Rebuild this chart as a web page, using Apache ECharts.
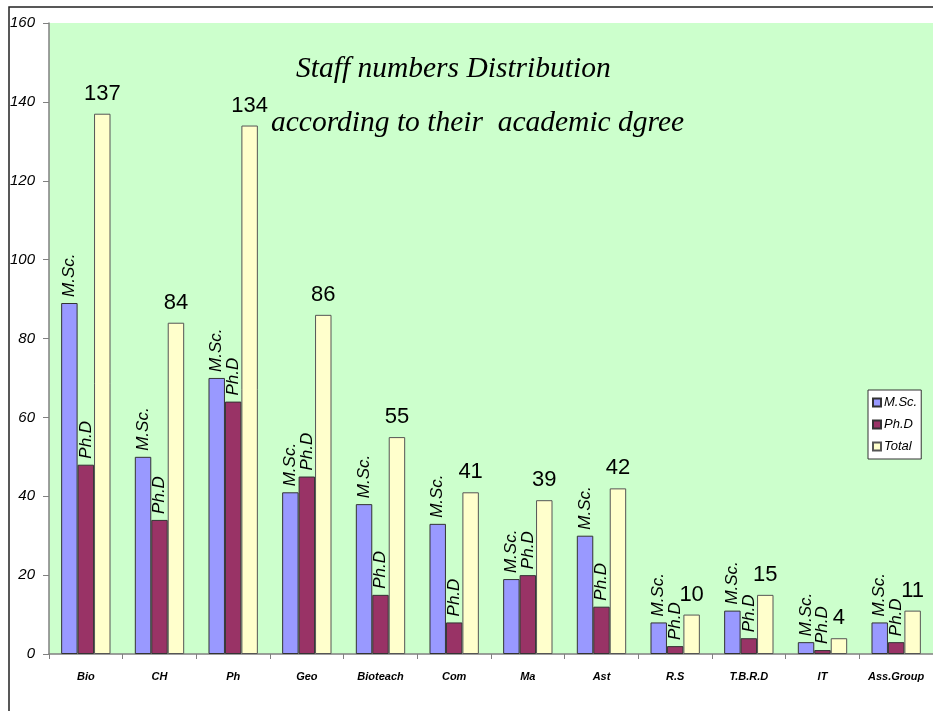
<!DOCTYPE html>
<html>
<head>
<meta charset="utf-8">
<script src="https://cdn.jsdelivr.net/npm/echarts@6/dist/echarts.min.js"></script>
<style>
  html, body { margin: 0; padding: 0; background: #fff; }
  #chart { width: 933px; height: 711px; }
</style>
</head>
<body>
<div id="chart"></div>
<script>
// 数据
const categories = ['Bio', 'CH', 'Ph', 'Geo', 'Bioteach', 'Com', 'Ma', 'Ast', 'R.S', 'T.B.R.D', 'IT', 'Ass.Group'];
const mscValues = [89, 50, 70, 41, 38, 33, 19, 30, 8, 11, 3, 8];
const phdValues = [48, 34, 64, 45, 15, 8, 20, 12, 2, 4, 1, 3];
const totalValues = [137, 84, 134, 86, 55, 41, 39, 42, 10, 15, 4, 11];
const yTicks = { min: 0, max: 160, interval: 20 };

function rotatedLabel(text) {
    return {
        show: true,
        position: 'top',
        rotate: 90,
        align: 'left',
        verticalAlign: 'middle',
        distance: 6,
        formatter: text,
        fontFamily: 'Liberation Sans, Arial',
        fontStyle: 'italic',
        fontSize: 17,
        color: '#000'
    };
}

function initStaffChart() {
    const chart = echarts.init(document.getElementById('chart'));

    const titleStyle = {
        fontFamily: 'Liberation Serif, Times New Roman',
        fontStyle: 'italic',
        fontWeight: 'normal',
        fontSize: 29.5,
        color: '#000'
    };

    const option = {
        backgroundColor: '#fff',
        animation: false,
        graphic: [{
            type: 'rect',
            shape: { x: 9, y: 7, width: 1000, height: 800 },
            style: { fill: 'none', stroke: '#222', lineWidth: 1.5 },
            z: 100
        }],
        title: [{
            text: 'Staff numbers Distribution',
            left: 291,
            top: 49,
            textStyle: titleStyle
        }, {
            text: 'according to their  academic dgree',
            left: 266,
            top: 103,
            textStyle: titleStyle
        }],
        legend: {
            orient: 'vertical',
            left: 868,
            top: 390,
            padding: [6, 4, 6, 4],
            itemGap: 9,
            itemWidth: 8,
            itemHeight: 8,
            backgroundColor: '#fff',
            borderColor: '#333',
            borderWidth: 1,
            borderRadius: 0,
            icon: 'rect',
            textStyle: {
                fontFamily: 'Liberation Sans, Arial',
                fontStyle: 'italic',
                fontSize: 13,
                color: '#000',
                padding: [0, 0, 0, -2]
            },
            data: ['M.Sc.', 'Ph.D', 'Total']
        },
        grid: {
            left: 49,
            right: -12,
            top: 23,
            bottom: 57,
            show: true,
            backgroundColor: '#ccffcc',
            borderWidth: 0
        },
        xAxis: {
            type: 'category',
            data: categories,
            axisLine: { lineStyle: { color: '#808080', width: 1.5 } },
            axisTick: { show: true, length: 5, alignWithLabel: false, lineStyle: { color: '#808080' } },
            axisLabel: {
                margin: 17,
                fontFamily: 'Liberation Sans Narrow, Liberation Sans, Arial',
                fontStyle: 'italic',
                fontWeight: 'bold',
                fontSize: 11,
                color: '#000'
            }
        },
        yAxis: {
            type: 'value',
            min: yTicks.min,
            max: yTicks.max,
            interval: yTicks.interval,
            splitLine: { show: false },
            axisLine: { show: true, lineStyle: { color: '#808080', width: 1.5 } },
            axisTick: { show: true, length: 6, lineStyle: { color: '#808080' } },
            axisLabel: {
                margin: 14,
                fontFamily: 'Liberation Sans, Arial',
                fontStyle: 'italic',
                fontSize: 15,
                color: '#000'
            }
        },
        series: [{
            name: 'M.Sc.',
            type: 'bar',
            data: mscValues,
            barGap: '0%',
            barCategoryGap: '33%',
            itemStyle: { color: '#9999ff', borderColor: '#333', borderWidth: 1 },
            label: rotatedLabel('M.Sc.')
        }, {
            name: 'Ph.D',
            type: 'bar',
            data: phdValues,
            itemStyle: { color: '#993366', borderColor: '#333', borderWidth: 1 },
            label: rotatedLabel('Ph.D')
        }, {
            name: 'Total',
            type: 'bar',
            data: totalValues,
            itemStyle: { color: '#ffffcc', borderColor: '#555', borderWidth: 1 },
            label: {
                show: true,
                position: 'top',
                distance: 9,
                fontFamily: 'Liberation Sans, Arial',
                fontSize: 22,
                color: '#000'
            }
        }]
    };

    chart.setOption(option);
}

window.onload = function() {
    initStaffChart();
};
</script>
</body>
</html>
